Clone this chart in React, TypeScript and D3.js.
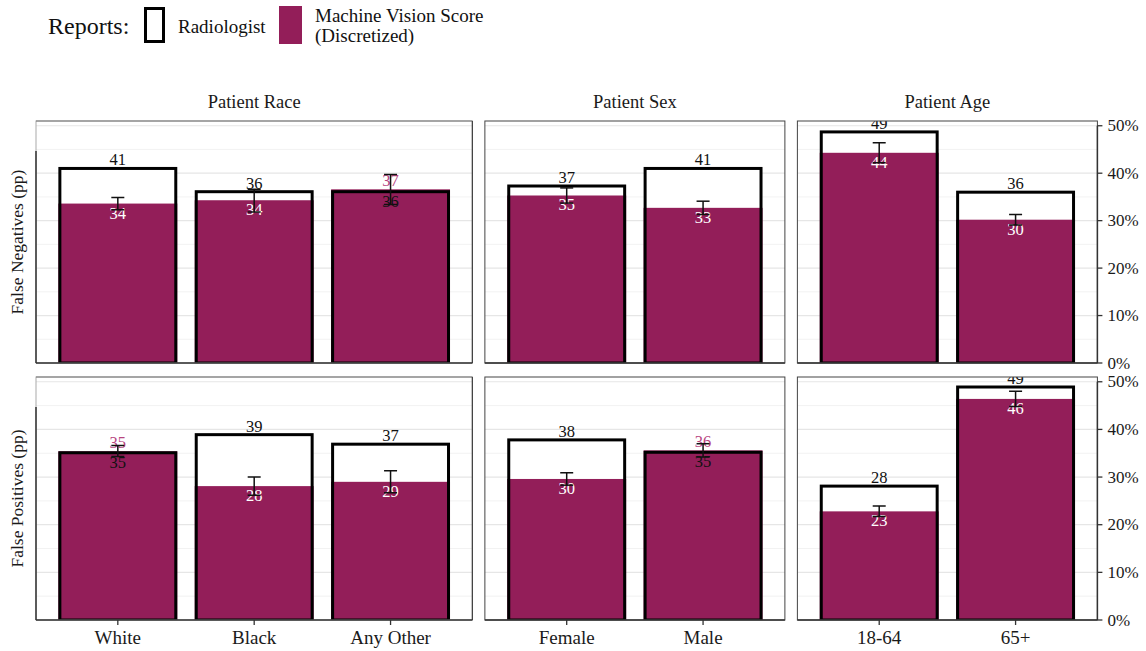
import React from "react";
import * as d3 from "d3";

// ---- data ----
const facetTitles = ["Patient Race", "Patient Sex", "Patient Age"];
const raceCats = ["White", "Black", "Any Other"];
const sexCats = ["Female", "Male"];
const ageCats = ["18-64", "65+"];
const rowTitles = ["False Negatives (pp)", "False Positives (pp)"];
const yTicks = [0, 10, 20, 30, 40, 50];
const yMinor = [5, 15, 25, 35, 45];

// order: White, Black, Any Other, Female, Male, 18-64, 65+
const fnRadiologist = [41.0, 36.1, 36.1, 37.3, 41.0, 48.7, 36.0];
const fnMachine = [33.6, 34.3, 36.6, 35.3, 32.7, 44.3, 30.2];
const fnLow = [32.3, 31.8, 33.4, 33.7, 31.3, 42.2, 29.1];
const fnHigh = [34.9, 36.6, 39.7, 36.9, 34.1, 46.4, 31.3];

const fpRadiologist = [35.1, 38.9, 36.9, 37.8, 35.2, 28.1, 48.9];
const fpMachine = [35.4, 28.1, 29.0, 29.6, 35.6, 22.8, 46.4];
const fpLow = [34.3, 26.2, 26.7, 28.3, 34.2, 21.7, 44.8];
const fpHigh = [36.6, 30.0, 31.3, 30.9, 37.0, 23.9, 48.0];

const PURPLE = "#931e59";
const PINK = "#b8447f";
const FONT = "'Liberation Serif', 'DejaVu Serif', serif";

const W = 1146;
const H = 651;
const plotLeft = 36;
const plotRight = 1097.4;
const gap = 12.5;
const facetCats = [raceCats, sexCats, ageCats];
const unit = (plotRight - plotLeft - gap * 2) / facetCats.reduce((s, c) => s + c.length + 0.2, 0);
const rowsY = [
  { top: 121, bottom: 363 },
  { top: 377, bottom: 620 },
];

type Panel = { x0: number; x1: number; cats: string[]; offset: number };
const panels: Panel[] = [];
{
  let x = plotLeft;
  let off = 0;
  facetCats.forEach((cats) => {
    const w = (cats.length + 0.2) * unit;
    panels.push({ x0: x, x1: x + w, cats, offset: off });
    x += w + gap;
    off += cats.length;
  });
}

const rowData = [
  { rad: fnRadiologist, mach: fnMachine, lo: fnLow, hi: fnHigh },
  { rad: fpRadiologist, mach: fpMachine, lo: fpLow, hi: fpHigh },
];

const fmt = d3.format(".0f");

export default function App() {
  return (
    <div style={{ position: "fixed", left: 0, top: 0 }}>
      <svg width={W} height={H} style={{ display: "block", background: "#fff" }} fontFamily={FONT}>
        <defs>
          {rowsY.map((r, ri) =>
            panels.map((p, pi) => (
              <clipPath id={`clip-${ri}-${pi}`} key={`c${ri}${pi}`}>
                <rect x={p.x0} y={r.top} width={p.x1 - p.x0} height={r.bottom - r.top} />
              </clipPath>
            ))
          )}
        </defs>

        {/* legend */}
        <text x={48} y={34} fontSize={24} fill="#111">Reports:</text>
        <rect x={145.5} y={8.5} width={18} height={33} fill="#fff" stroke="#000" strokeWidth={3} />
        <text x={178} y={33} fontSize={19} fill="#111">Radiologist</text>
        <rect x={279} y={6} width={23} height={38} fill={PURPLE} />
        <text x={315} y={22} fontSize={19} fill="#111">Machine Vision Score</text>
        <text x={315} y={42} fontSize={19} fill="#111">(Discretized)</text>

        {/* strip titles */}
        {panels.map((p, pi) => (
          <text key={`st${pi}`} x={(p.x0 + p.x1) / 2} y={108} fontSize={18.5} textAnchor="middle" fill="#1a1a1a">
            {facetTitles[pi]}
          </text>
        ))}

        {/* row titles */}
        {rowsY.map((r, ri) => (
          <text
            key={`rt${ri}`}
            transform={`translate(23,${(r.top + r.bottom) / 2}) rotate(-90)`}
            fontSize={17.5}
            textAnchor="middle"
            fill="#1a1a1a"
          >
            {rowTitles[ri]}
          </text>
        ))}

        {rowsY.map((r, ri) => {
          const y = d3.scaleLinear().domain([0, 51]).range([r.bottom, r.top]);
          const d = rowData[ri];
          return (
            <g key={`row${ri}`}>
              {panels.map((p, pi) => {
                const x = d3
                  .scaleLinear()
                  .domain([0.4, p.cats.length + 0.6])
                  .range([p.x0, p.x1]);
                const bw = 0.85 * unit;
                return (
                  <g key={`p${pi}`}>
                    <rect x={p.x0} y={r.top} width={p.x1 - p.x0} height={r.bottom - r.top} fill="#fff" />
                    {yMinor.map((t) => (
                      <line key={`mn${t}`} x1={p.x0} x2={p.x1} y1={y(t)} y2={y(t)} stroke="#f0f0f0" strokeWidth={0.9} />
                    ))}
                    {yTicks.map((t) => (
                      <line key={`mj${t}`} x1={p.x0} x2={p.x1} y1={y(t)} y2={y(t)} stroke="#e6e6e6" strokeWidth={1.2} />
                    ))}
                    <g clipPath={`url(#clip-${ri}-${pi})`}>
                      {p.cats.map((c, ci) => {
                        const idx = p.offset + ci;
                        const cx = x(ci + 1);
                        const rad = d.rad[idx];
                        const mach = d.mach[idx];
                        const radAbove = rad >= mach;
                        return (
                          <g key={c}>
                            <rect x={cx - bw / 2} y={y(rad)} width={bw} height={y(0) - y(rad)} fill="#fff" />
                            <rect x={cx - bw / 2 - 1.5} y={y(mach)} width={bw + 3} height={y(0) - y(mach)} fill={PURPLE} />
                            <rect
                              x={cx - bw / 2}
                              y={y(rad)}
                              width={bw}
                              height={y(0) - y(rad)}
                              fill="none"
                              stroke="#000"
                              strokeWidth={3}
                            />
                            {/* labels */}
                            <text
                              x={cx}
                              y={radAbove ? y(rad) - 3 : y(rad) + 15}
                              fontSize={16.5}
                              textAnchor="middle"
                              fill="#111"
                            >
                              {fmt(rad)}
                            </text>
                            <text
                              x={cx}
                              y={radAbove ? y(mach) + 15 : y(mach) - 3}
                              fontSize={16.5}
                              textAnchor="middle"
                              fill={radAbove ? "#fff" : PINK}
                            >
                              {fmt(mach)}
                            </text>
                            {/* error bar */}
                            <g stroke="#111" strokeWidth={1.5}>
                              <line x1={cx} x2={cx} y1={y(d.lo[idx])} y2={y(d.hi[idx])} />
                              <line x1={cx - 6.5} x2={cx + 6.5} y1={y(d.hi[idx])} y2={y(d.hi[idx])} />
                              <line x1={cx - 6.5} x2={cx + 6.5} y1={y(d.lo[idx])} y2={y(d.lo[idx])} />
                            </g>
                          </g>
                        );
                      })}
                    </g>
                    {/* panel border */}
                    <rect
                      x={p.x0}
                      y={r.top}
                      width={p.x1 - p.x0}
                      height={r.bottom - r.top}
                      fill="none"
                      stroke={pi === 0 ? "#aaa" : "#444"}
                      strokeWidth={1}
                    />
                    {pi === 0 && (
                      <>
                        <line x1={p.x0} x2={p.x1} y1={r.top} y2={r.top} stroke="#777" strokeWidth={1} />
                        <line x1={p.x1} x2={p.x1} y1={r.top} y2={r.bottom} stroke="#444" strokeWidth={1.3} />
                        <line x1={p.x0} x2={p.x0} y1={y(44.7)} y2={y(0)} stroke="#333" strokeWidth={1.5} />
                      </>
                    )}
                    <line x1={p.x0} x2={p.x1} y1={r.bottom} y2={r.bottom} stroke="#333" strokeWidth={1.5} />
                    {/* bottom axis on bottom row */}
                    {ri === 1 &&
                      p.cats.map((c, ci) => (
                        <g key={`xt${c}`}>
                          <line x1={x(ci + 1)} x2={x(ci + 1)} y1={r.bottom} y2={r.bottom + 5} stroke="#333" strokeWidth={1.3} />
                          <text x={x(ci + 1)} y={r.bottom + 24} fontSize={19} textAnchor="middle" fill="#1a1a1a">
                            {c}
                          </text>
                        </g>
                      ))}
                    {/* right axis */}
                    {pi === panels.length - 1 && (
                      <g>
                        <line x1={p.x1} x2={p.x1} y1={y(50)} y2={y(0)} stroke="#333" strokeWidth={1.5} />
                        {yTicks.map((t) => (
                          <g key={`ra${t}`}>
                            <line x1={p.x1} x2={p.x1 + 5} y1={y(t)} y2={y(t)} stroke="#333" strokeWidth={1.3} />
                            <text x={p.x1 + 10} y={y(t) + 5.5} fontSize={17} fill="#1a1a1a">
                              {`${t}%`}
                            </text>
                          </g>
                        ))}
                      </g>
                    )}
                  </g>
                );
              })}
            </g>
          );
        })}
      </svg>
    </div>
  );
}
